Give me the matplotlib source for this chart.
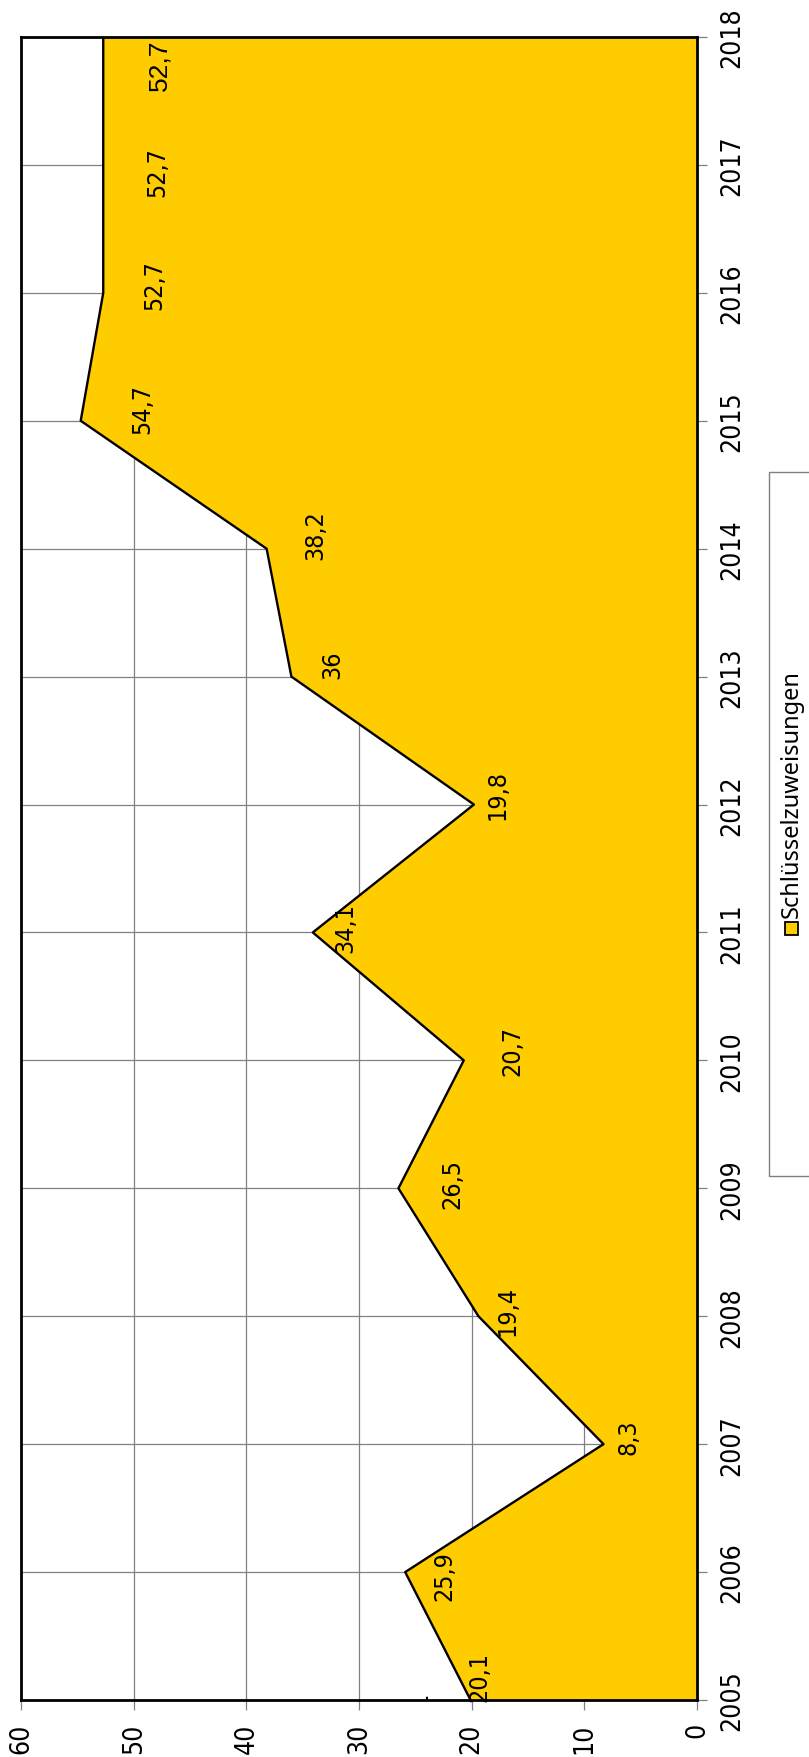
import numpy as np
import matplotlib.pyplot as plt
from matplotlib.patches import Rectangle

# data
years = [2005, 2006, 2007, 2008, 2009, 2010, 2011, 2012, 2013, 2014, 2015, 2016, 2017, 2018]
values = [20.1, 25.9, 8.3, 19.4, 26.5, 20.7, 34.1, 19.8, 36.0, 38.2, 54.7, 52.7, 52.7, 52.7]
labels = ['20,1', '25,9', '8,3', '19,4', '26,5', '20,7', '34,1', '19,8', '36', '38,2', '54,7', '52,7', '52,7', '52,7']
series_name = 'Schlüsselzuweisungen'
value_ticks = [0, 10, 20, 30, 40, 50, 60]

# where the data labels sit (value units / year offsets)
label_x = [19.3, 22.4, 6.1, 16.8, 21.7, 16.4, 31.2, 17.7, 32.4, 33.9, 49.2, 48.2, 47.9, 47.7]
label_dy = [0.19, -0.02, 0.06, 0.05, 0.04, 0.08, 0.04, 0.08, 0.1, 0.11, 0.1, 0.07, -0.05, -0.21]

gold = '#FFCC00'
W, H = 809, 1758

fig = plt.figure(figsize=(W / 100, H / 100), dpi=100)
ax = fig.add_axes([21 / W, 1 - 1701 / H, (697 - 21) / W, (1701 - 38) / H])

ax.fill_betweenx(years, 0, values, facecolor=gold, edgecolor='none', zorder=2)
ax.plot(values, years, color='black', lw=1.7, zorder=3)

ax.set_xlim(60, 0)
ax.set_ylim(years[0], years[-1])
ax.set_xticks(value_ticks)
ax.set_yticks(years)
ax.grid(True, color='#808080', lw=0.9, zorder=0)
ax.set_axisbelow(True)

ax.yaxis.tick_right()
ax.tick_params(axis='both', length=7, width=0.9, color='#808080')
ax.tick_params(axis='x', pad=9)
ax.tick_params(axis='y', pad=9)
for t in ax.get_xticklabels():
    t.set_rotation(90)
    t.set_fontsize(19)
    t.set_fontstretch('condensed')
for t in ax.get_yticklabels():
    t.set_rotation(90)
    t.set_va('center')
    t.set_fontsize(19)
    t.set_fontstretch('condensed')

for s in ax.spines.values():
    s.set_color('black')
    s.set_linewidth(2)
    s.set_zorder(4)

for i, (lx, y, dy, lab) in enumerate(zip(label_x, years, label_dy, labels)):
    if i == len(years) - 1:
        ax.text(lx, y + dy, lab, rotation=90, ha='center', va='center',
                fontsize=19, family='Liberation Sans', zorder=5)
    else:
        ax.text(lx, y + dy, lab, rotation=90, ha='center', va='center',
                fontsize=18, fontstretch='condensed', zorder=5)

# stray, half hidden label at the bottom edge
ax.text(24.6, years[0] + 0.02, '1', rotation=90, ha='center', va='center',
        fontsize=18, fontstretch='condensed', zorder=5, clip_on=True)

# legend drawn by hand since it is rotated
fig.patches.append(Rectangle((769 / W, 1 - 1177 / H), 50 / W, 704 / H,
                             transform=fig.transFigure, facecolor='white',
                             edgecolor='#808080', lw=1))
fig.patches.append(Rectangle((785 / W, 1 - 936 / H), 13 / W, 13 / H,
                             transform=fig.transFigure, facecolor=gold,
                             edgecolor='black', lw=1.3))
fig.text(792 / W, 1 - 918 / H, series_name, rotation=90, ha='center', va='bottom',
         fontsize=17, family='Noto Sans')

fig.savefig('out.png', dpi=100)
